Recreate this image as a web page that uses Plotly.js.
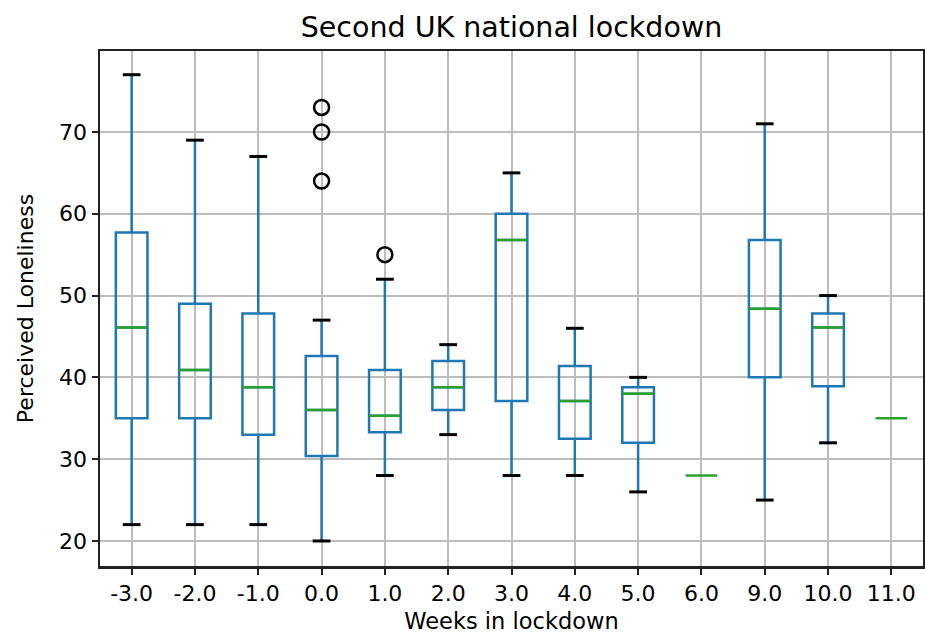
<!DOCTYPE html>
<html>
<head>
<meta charset="utf-8">
<script src="https://cdn.plot.ly/plotly-3.0.1.min.js"></script>
<style>html,body{margin:0;padding:0;background:#fff;}#chart{width:925px;height:637px;}</style>
</head>
<body>
<div id="chart"></div>
<script>
const weeks = ["-3.0","-2.0","-1.0","0.0","1.0","2.0","3.0","4.0","5.0","6.0","9.0","10.0","11.0"];
const lowerWhisker = [22, 22, 22, 20, 28, 33, 28, 28, 26, 28, 25, 32, 35];
const q1Values     = [35, 35, 33, 30.4, 33.3, 36, 37.1, 32.5, 32, 28, 40, 38.9, 35];
const medianValues = [46.1, 40.9, 38.8, 36, 35.3, 38.8, 56.8, 37.1, 38, 28, 48.4, 46.1, 35];
const q3Values     = [57.7, 49, 47.8, 42.6, 40.9, 42, 60, 41.4, 38.8, 28, 56.8, 47.8, 35];
const upperWhisker = [77, 69, 67, 47, 52, 44, 65, 46, 40, 28, 71, 50, 35];
const outlierWeeks  = ["0.0", "0.0", "0.0", "1.0"];
const outlierValues = [73, 70, 64, 55];

const FONT = "DejaVu Sans, sans-serif";
const pos = weeks.map((w, i) => i + 1);
const BOX_HALF = 0.25, CAP_HALF = 0.14;

// boxes only for groups with spread
const idx = pos.map((p, i) => i).filter(i => q3Values[i] > q1Values[i] || upperWhisker[i] > lowerWhisker[i]);

const boxTrace = {
  type: 'box',
  x: idx.map(i => pos[i]),
  q1: idx.map(i => q1Values[i]),
  median: idx.map(i => medianValues[i]),
  q3: idx.map(i => q3Values[i]),
  lowerfence: idx.map(i => lowerWhisker[i]),
  upperfence: idx.map(i => upperWhisker[i]),
  width: 0.5,
  whiskerwidth: 0,
  boxpoints: false,
  line: {color: '#1f77b4', width: 2.5},
  fillcolor: 'rgba(0,0,0,0)',
  hoverinfo: 'skip'
};

function segs(values, half, onlyIdx) {
  const xs = [], ys = [];
  onlyIdx.forEach(i => { xs.push(pos[i] - half, pos[i] + half, null); ys.push(values[i], values[i], null); });
  return {xs, ys};
}
const capU = segs(upperWhisker, CAP_HALF, idx);
const capL = segs(lowerWhisker, CAP_HALF, idx);
const capTrace = {
  type: 'scatter', mode: 'lines',
  x: capU.xs.concat(capL.xs), y: capU.ys.concat(capL.ys),
  line: {color: '#000', width: 3}, hoverinfo: 'skip'
};
const med = segs(medianValues, BOX_HALF, pos.map((p, i) => i));
const medTrace = {
  type: 'scatter', mode: 'lines', x: med.xs, y: med.ys,
  line: {color: '#2ca02c', width: 2.5}, hoverinfo: 'skip'
};
const outTrace = {
  type: 'scatter', mode: 'markers',
  x: outlierWeeks.map(w => weeks.indexOf(w) + 1), y: outlierValues,
  marker: {symbol: 'circle-open', size: 15, color: '#000', line: {color: '#000', width: 2.5}},
  hoverinfo: 'skip'
};

const layout = {
  width: 925, height: 637,
  margin: {l: 100, r: 2, t: 51, b: 71},
  paper_bgcolor: '#fff', plot_bgcolor: '#fff',
  showlegend: false,
  font: {family: FONT, color: '#000', size: 22},
  title: {text: 'Second UK national lockdown', font: {family: FONT, size: 28.5, color: '#000'},
          x: 0.5, xref: 'paper', xanchor: 'center', y: 1 - 27/637, yref: 'container', yanchor: 'middle'},
  xaxis: {
    range: [0.5, weeks.length + 0.5],
    tickmode: 'array', tickvals: pos, ticktext: weeks,
    showgrid: true, gridcolor: '#bdbdbd', gridwidth: 2,
    showline: true, linecolor: '#222', linewidth: 2.5, mirror: true,
    ticks: 'outside', ticklen: 6, tickwidth: 2, tickcolor: '#222',
    tickfont: {family: FONT, size: 22, color: '#000'},
    zeroline: false,
    title: {text: 'Weeks in lockdown', font: {family: FONT, size: 22.5, color: '#000'}, standoff: 9}
  },
  yaxis: {
    range: [16.94, 79.9],
    tickmode: 'array', tickvals: [20, 30, 40, 50, 60, 70],
    showgrid: true, gridcolor: '#bdbdbd', gridwidth: 2,
    showline: true, linecolor: '#222', linewidth: 2.5, mirror: true,
    ticks: 'outside', ticklen: 6, tickwidth: 2, tickcolor: '#222',
    tickfont: {family: FONT, size: 22, color: '#000'},
    zeroline: false,
    title: {text: 'Perceived Loneliness', font: {family: FONT, size: 22, color: '#000'}, standoff: 20}
  }
};

Plotly.newPlot('chart', [boxTrace, medTrace, capTrace, outTrace], layout, {displayModeBar: false, staticPlot: true});
</script>
</body>
</html>
